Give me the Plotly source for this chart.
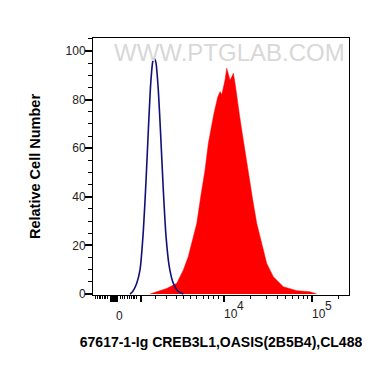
import plotly.graph_objects as go

# ---- data (x in display decades: 4 -> 10^4, 5 -> 10^5) ----
iso_x = [2.932, 2.962, 3.008, 3.045, 3.083, 3.114, 3.140, 3.167, 3.190, 3.208, 3.227,
         3.253, 3.281, 3.310, 3.341, 3.378, 3.424, 3.481, 3.538]
iso_y = [0, 1.0, 4.4, 9.9, 26, 47, 67.5, 86.7, 95.6, 97, 95,
         84, 64.7, 42.8, 23.6, 11.2, 4.4, 1.0, 0]

ab_x = [3.159, 3.235, 3.349, 3.463, 3.538, 3.594, 3.651, 3.690, 3.735, 3.784, 3.822,
        3.849, 3.886, 3.928, 3.955, 3.974, 3.992, 4.011, 4.031, 4.049, 4.068, 4.088,
        4.106, 4.125, 4.144, 4.174, 4.201, 4.227, 4.258, 4.288, 4.326, 4.372, 4.428,
        4.485, 4.560, 4.674, 4.826, 4.977, 5.053]
ab_y = [0, 1.0, 2.3, 4.4, 9.9, 15.4, 23.6, 29, 40, 51, 62,
        67.5, 74.4, 81, 83.3, 82, 84.6, 88, 92.9, 90, 88, 89.4,
        90.8, 86.7, 81, 74, 67.5, 61.3, 53.8, 47, 38.7, 29, 20.8,
        12.6, 7.1, 3.0, 1.4, 0.9, 0]

x_major_ticks = [2.716, 2.727, 2.739, 2.750, 2.761, 2.773, 2.784, 3.057, 4.0, 5.0]
x_minor_ticks = [2.534, 2.557, 2.580, 2.599, 2.617, 2.636, 2.656, 2.674,
                 2.818, 2.844, 2.872, 2.898, 2.928, 2.947, 2.966, 2.985, 3.003,
                 3.216, 3.341, 3.463, 3.538, 3.614, 3.690, 3.765, 3.822, 3.878, 3.935,
                 4.301, 4.477, 4.602, 4.699, 4.778, 4.845, 4.903, 4.954, 5.301]
x_label_pos = [2.773, 4.0, 5.0]
x_label_base = ["0", "10", "10"]
x_label_exp = ["", "4", "5"]

y_tick_vals = [0, 20, 40, 60, 80, 100]

x_title = "67617-1-Ig CREB3L1,OASIS(2B5B4),CL488"
y_title = "Relative Cell Number"
watermark = "WWW.PTGLAB.COM"

FONT = "Liberation Sans, Arial, sans-serif"
LBL = dict(family=FONT, size=12, color="#222")

fig = go.Figure()
fig.add_trace(go.Scatter(x=ab_x, y=ab_y, mode="lines", fill="tozeroy",
                         fillcolor="#ff0000", line=dict(color="#ff0000", width=0.5),
                         showlegend=False, hoverinfo="skip"))
fig.add_trace(go.Scatter(x=iso_x, y=iso_y, mode="lines",
                         line=dict(color="#10107a", width=1.6, shape="spline", smoothing=0.6),
                         showlegend=False, hoverinfo="skip"))

annotations = []
for pos, base, exp in zip(x_label_pos, x_label_base, x_label_exp):
    annotations.append(dict(x=pos, y=0, xref="x", yref="paper", text=base,
                            xanchor="left", yanchor="top", xshift=-2,
                            yshift=-12 if not exp else -10,
                            showarrow=False, font=LBL))
    if exp:
        annotations.append(dict(x=pos, y=0, xref="x", yref="paper", text=exp,
                                xanchor="left", yanchor="top", xshift=11, yshift=-2,
                                showarrow=False, font=LBL))
annotations.append(dict(x=0.5, y=1, xref="paper", yref="paper", text=watermark,
                        xanchor="center", yanchor="middle", yshift=-14, xshift=8,
                        showarrow=False,
                        font=dict(family=FONT, size=24, color="#d8d8d8")))

# the page body adds an 8px offset; the figure is sized/margined to compensate
fig.update_layout(
    width=362, height=359,
    margin=dict(l=85, r=21, t=30, b=72),
    paper_bgcolor="white", plot_bgcolor="white",
    font=dict(family=FONT, size=12, color="#222"),
    annotations=annotations,
    xaxis=dict(range=[2.511, 5.420], showgrid=False, zeroline=False, automargin=False,
               showline=True, linecolor="black", linewidth=1, mirror=True,
               tickmode="array", tickvals=x_major_ticks, showticklabels=False,
               ticks="outside", ticklen=6, tickwidth=1.5, tickcolor="black",
               minor=dict(tickmode="array", tickvals=x_minor_ticks, ticks="outside",
                          ticklen=3, tickwidth=1, tickcolor="black"),
               title=dict(text=x_title, standoff=36,
                          font=dict(family=FONT, size=14, color="black", weight="bold"))),
    yaxis=dict(range=[-0.4, 105.35], showgrid=False, zeroline=False, automargin=False,
               showline=True, linecolor="black", linewidth=1, mirror=True,
               tickmode="array", tickvals=y_tick_vals,
               ticks="outside", ticklen=7, tickwidth=1.5, tickcolor="black",
               ticklabelstandoff=-3,
               minor=dict(dtick=5, ticks="outside", ticklen=4, tickwidth=1,
                          tickcolor="black"),
               tickfont=LBL,
               title=dict(text=y_title, standoff=21,
                          font=dict(family=FONT, size=14.5, color="black", weight="bold"))),
)

fig.write_html("out.html")
